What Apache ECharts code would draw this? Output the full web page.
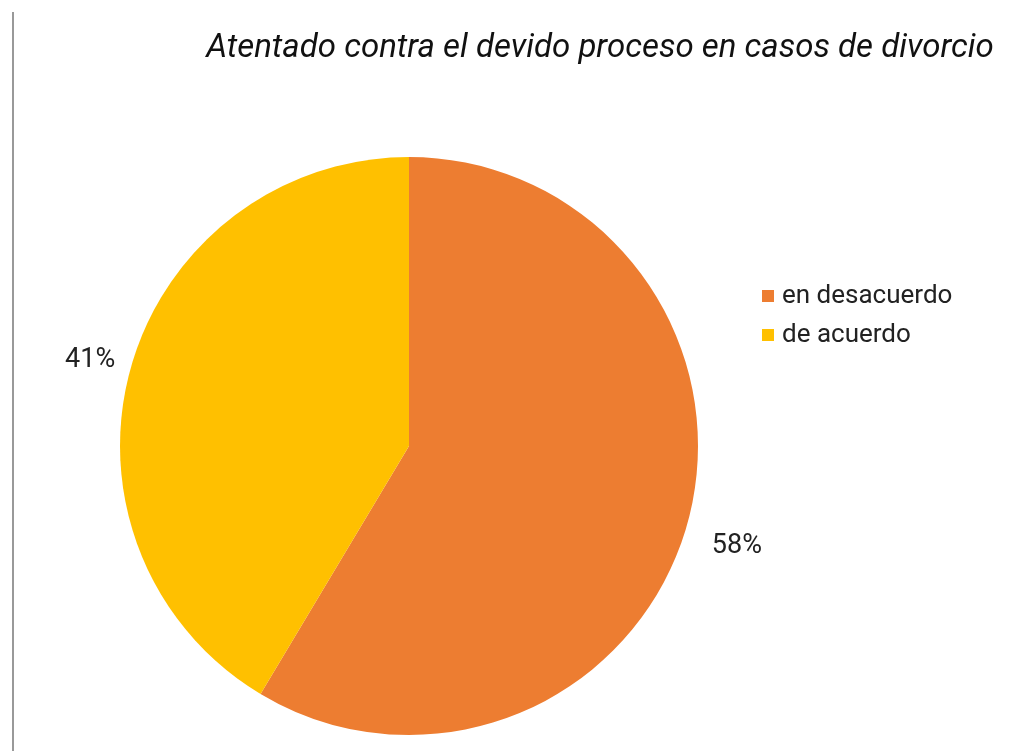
<!DOCTYPE html>
<html>
<head>
<meta charset="utf-8">
<script src="https://cdn.jsdelivr.net/npm/echarts@6/dist/echarts.min.js"></script>
<style>
  html, body { margin: 0; padding: 0; background: #fff; }
  #chart { width: 1022px; height: 751px; }
</style>
</head>
<body>
<div id="chart"></div>
<script>
// datos
const categories = ["en desacuerdo", "de acuerdo"];
const values = [58, 41];
const colors = ["#ED7D31", "#FFC000"];

const chart = echarts.init(document.getElementById("chart"));
chart.setOption({
  backgroundColor: "#fff",
  textStyle: { fontFamily: "Roboto" },
  title: {
    text: "Atentado contra el devido proceso en casos de divorcio",
    left: 595,
    top: 27,
    textAlign: "center",
    textStyle: {
      fontFamily: "Roboto",
      fontStyle: "italic",
      fontWeight: "normal",
      fontSize: 33,
      color: "#111",
    },
  },
  legend: {
    orient: "vertical",
    left: 757,
    top: 278,
    itemWidth: 12,
    itemHeight: 12,
    itemGap: 13,
    icon: "rect",
    textStyle: { fontSize: 26, color: "#222", fontFamily: "Roboto", padding: [0, 0, 0, 3] },
    data: categories,
  },
  graphic: [
    {
      type: "line",
      shape: { x1: 13, y1: 12, x2: 13, y2: 751 },
      style: { stroke: "#999", lineWidth: 2 },
    },
  ],
  series: [
    {
      type: "pie",
      center: [409, 446],
      radius: 289,
      startAngle: 90,
      clockwise: true,
      silent: true,
      label: {
        show: true,
        position: "outside",
        formatter: "{c}%",
        fontSize: 27,
        color: "#222",
        fontFamily: "Roboto",
      },
      labelLine: { show: false, length: 20, length2: 0 },
      labelLayout: (p) => (p.dataIndex === 0 ? { dy: 18 } : { dx: 9, dy: -3 }),
      data: categories.map((name, i) => ({
        name: name,
        value: values[i],
        itemStyle: { color: colors[i] },
      })),
    },
  ],
});
</script>
</body>
</html>
